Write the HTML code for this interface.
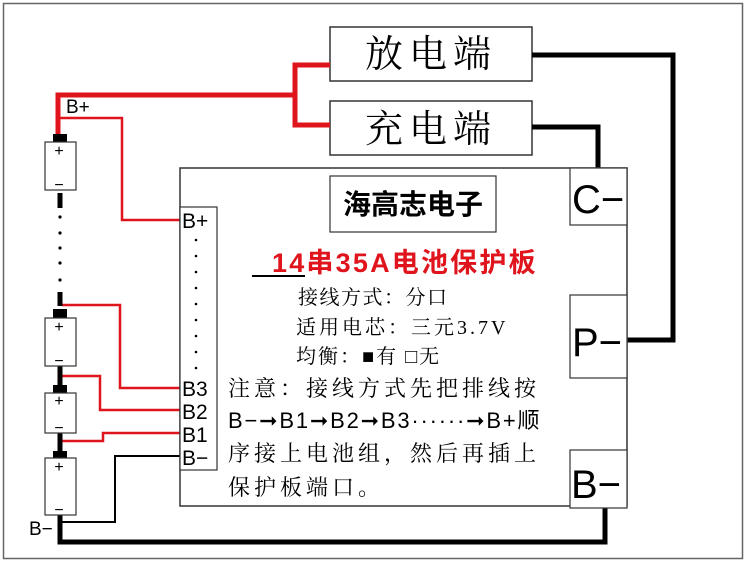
<!DOCTYPE html>
<html><head><meta charset="utf-8"><style>
body{margin:0;background:#fff;width:750px;height:566px;overflow:hidden}
svg{display:block}
.s{font-family:"Liberation Serif","Noto Serif CJK SC",serif}
.a{font-family:"Liberation Sans","Noto Sans CJK SC",sans-serif}
</style></head><body>
<svg width="750" height="566" viewBox="0 0 750 566">
<rect x="3.5" y="3.5" width="739" height="555" fill="none" stroke="#666" stroke-width="1.5"/>
<rect x="330" y="27" width="202" height="54" fill="#fff" stroke="#333" stroke-width="1.5"/>
<rect x="330" y="101" width="202" height="54" fill="#fff" stroke="#333" stroke-width="1.5"/>
<text x="431" y="67" class="s" font-size="38" text-anchor="middle" letter-spacing="6">放电端</text>
<text x="431" y="142" class="s" font-size="38" text-anchor="middle" letter-spacing="6">充电端</text>
<polyline points="58,140 58,95 295,95" fill="none" stroke="#e0141c" stroke-width="5"/>
<polyline points="330,65 295,65 295,125 330,125" fill="none" stroke="#e0141c" stroke-width="5"/>
<polyline points="532,55 673,55 673,340 627,340" fill="none" stroke="#000" stroke-width="5"/>
<polyline points="532,127 598,127 598,168" fill="none" stroke="#000" stroke-width="5"/>
<polyline points="60,515 60,542 605,542 605,508" fill="none" stroke="#000" stroke-width="5"/>
<polyline points="182,456 115,456 115,522 62,522" fill="none" stroke="#000" stroke-width="2"/>
<polyline points="60,118 122,118 122,220 182,220" fill="none" stroke="#e0141c" stroke-width="2.5"/>
<polyline points="182,388 120,388 120,305 62,305" fill="none" stroke="#e0141c" stroke-width="2.5"/>
<polyline points="182,410 100,410 100,376 62,376" fill="none" stroke="#e0141c" stroke-width="2.5"/>
<polyline points="182,433 103,433 103,441 62,441" fill="none" stroke="#e0141c" stroke-width="2.5"/>
<g stroke="#000" stroke-width="5" fill="none">
<line x1="60" y1="193" x2="60" y2="208"/>
<line x1="60" y1="292" x2="60" y2="306"/>
<line x1="60" y1="366" x2="60" y2="386"/>
<line x1="60" y1="432" x2="60" y2="452"/>
</g>
<g fill="#000">
<rect x="53" y="134" width="14" height="8"/><rect x="53" y="309" width="14" height="9"/>
<rect x="53" y="385" width="14" height="8"/><rect x="53" y="451" width="14" height="8"/>
<circle cx="60" cy="217" r="1.6"/><circle cx="60" cy="233" r="1.6"/><circle cx="60" cy="248" r="1.6"/><circle cx="60" cy="263" r="1.6"/><circle cx="60" cy="280" r="1.6"/>
</g>
<g fill="#fff" stroke="#333" stroke-width="1.2">
<rect x="45" y="142" width="31" height="48"/><rect x="45" y="318" width="31" height="48"/>
<rect x="45" y="393" width="31" height="40"/><rect x="45" y="458" width="31" height="57"/>
</g>
<g class="a" font-size="16" text-anchor="middle">
<text x="59" y="156">+</text><text x="59" y="332">+</text><text x="59" y="406">+</text><text x="59" y="472">+</text>
<text x="59" y="190">−</text><text x="59" y="366">−</text><text x="59" y="433">−</text><text x="59" y="515">−</text>
</g>
<text x="66" y="113" class="a" font-size="19">B+</text>
<text x="29" y="535" class="a" font-size="19">B−</text>
<rect x="180" y="168" width="447" height="338" fill="none" stroke="#333" stroke-width="1.5"/>
<rect x="180" y="207" width="37" height="263" fill="#fff" stroke="#333" stroke-width="1.2"/>
<g class="a" font-size="21">
<text x="182" y="228">B+</text><text x="182" y="396">B3</text><text x="182" y="419">B2</text><text x="182" y="442">B1</text><text x="182" y="465">B−</text>
</g>
<g fill="#000"><circle cx="196" cy="240" r="1.3"/><circle cx="196" cy="256" r="1.3"/><circle cx="196" cy="272" r="1.3"/><circle cx="196" cy="288" r="1.3"/><circle cx="196" cy="304" r="1.3"/><circle cx="196" cy="320" r="1.3"/><circle cx="196" cy="336" r="1.3"/><circle cx="196" cy="352" r="1.3"/><circle cx="196" cy="368" r="1.3"/></g>
<rect x="570" y="168" width="57" height="57" fill="#fff" stroke="#333" stroke-width="1.2"/>
<rect x="570" y="295" width="57" height="83" fill="#fff" stroke="#333" stroke-width="1.2"/>
<rect x="570" y="450" width="57" height="58" fill="#fff" stroke="#333" stroke-width="1.2"/>
<g class="a" font-size="40"><text x="572" y="213">C−</text><text x="572" y="356">P−</text><text x="571" y="498">B−</text></g>
<rect x="330" y="176" width="166" height="56" fill="#fff" stroke="#333" stroke-width="1.2"/>
<text x="413" y="214" class="a" font-size="28" font-weight="bold" text-anchor="middle">海高志电子</text>
<line x1="252" y1="276" x2="305" y2="276" stroke="#000" stroke-width="2"/>
<text x="272" y="272" class="a" font-size="27" font-weight="bold" fill="#e0141c" letter-spacing="2.2">14串35A电池保护板</text>
<g class="s">
<text x="298" y="304" font-size="20" letter-spacing="1.5">接线方式：分口</text>
<text x="296" y="334" font-size="20" letter-spacing="3">适用电芯：三元3.7V</text>
<text x="296" y="363" font-size="20" letter-spacing="2">均衡：■有 □无</text>
<text x="228" y="396" font-size="22" letter-spacing="4">注意：接线方式先把排线按</text>
<text x="228" y="428" font-size="22" class="a" letter-spacing="1.8">B−➞B1➞B2➞B3······➞B+顺</text>
<text x="228" y="461" font-size="22" letter-spacing="4">序接上电池组，然后再插上</text>
<text x="228" y="495" font-size="22" letter-spacing="4">保护板端口。</text>
</g>
</svg>
</body></html>
